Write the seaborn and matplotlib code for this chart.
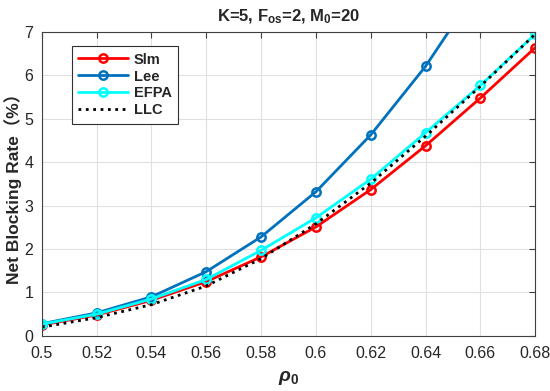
import pandas as pd
import matplotlib.pyplot as plt
import seaborn as sns

# Data
rho = [0.50, 0.52, 0.54, 0.56, 0.58, 0.60, 0.62, 0.64, 0.66, 0.68]
slm = [0.25, 0.48, 0.82, 1.25, 1.82, 2.51, 3.37, 4.38, 5.48, 6.64]
lee = [0.28, 0.53, 0.90, 1.48, 2.28, 3.32, 4.63, 6.21, 8.10, 10.3]
efpa = [0.27, 0.50, 0.85, 1.30, 1.97, 2.72, 3.61, 4.68, 5.77, 6.95]
llc = [0.20, 0.42, 0.72, 1.15, 1.78, 2.58, 3.52, 4.60, 5.75, 6.95]

sns.set_style("whitegrid")
plt.rcParams["font.family"] = ["Liberation Sans", "Noto Sans CJK SC", "DejaVu Sans"]
plt.rcParams["mathtext.fontset"] = "custom"
plt.rcParams["mathtext.bf"] = "Liberation Sans:bold"
plt.rcParams["mathtext.it"] = "Liberation Sans:italic:bold"
plt.rcParams["mathtext.rm"] = "Liberation Sans:bold"

fig = plt.figure(figsize=(5.5, 3.91), dpi=100)
ax = fig.add_axes([0.076, 0.141, 0.897, 0.777])

# Series styles
series = [
    ("Slm", slm, "#FF0000", "-", "o"),
    ("Lee", lee, "#0072BD", "-", "o"),
    ("EFPA", efpa, "#00FFFF", "-", "o"),
    ("LLC", llc, "black", ":", None),
]

for name, vals, color, ls, mk in series:
    df = pd.DataFrame({"rho": rho, "rate": vals})
    sns.lineplot(data=df, x="rho", y="rate", ax=ax, color=color, linestyle=ls,
                 linewidth=2, marker=mk, markersize=6, markerfacecolor="none",
                 markeredgecolor=color, markeredgewidth=1.8, label=name)

ax.set_xlim(0.5, 0.68)
ax.set_ylim(0, 7)
ax.set_xticks(rho)
ax.set_xticklabels(["0.5", "0.52", "0.54", "0.56", "0.58", "0.6", "0.62",
                    "0.64", "0.66", "0.68"])
ax.set_yticks(range(0, 8))
ax.tick_params(direction="in", length=4, labelsize=11.5, color="#404040",
               top=True, right=True)
ax.tick_params(axis="x", pad=7)
ax.tick_params(axis="y", pad=6)
ax.grid(True, color="#e0e0e0", linewidth=0.8)
for s in ax.spines.values():
    s.set_color("#404040")
    s.set_linewidth(0.8)

ax.set_title(r"K=5, F$_{\mathbf{os}}$=2, M$_{\mathbf{0}}$=20", fontsize=12,
             fontweight="bold", pad=8)
ax.set_xlabel(r"$\rho_{\mathbf{0}}$", fontsize=14, fontweight="bold", labelpad=6)
ax.set_ylabel("Net Blocking Rate（%）", fontsize=12.5, fontweight="bold")
ax.yaxis.set_label_coords(-0.04, 0.5)

leg = ax.legend(loc="upper left", bbox_to_anchor=(0.061, 0.954), frameon=True,
                fancybox=False, edgecolor="#303030", framealpha=1,
                prop={"weight": "bold", "size": 10.5}, handlelength=3.4,
                borderpad=0.45, labelspacing=0.2, handletextpad=0.4,
                borderaxespad=0)
leg.get_frame().set_linewidth(0.8)

plt.savefig("out.png", dpi=100)
